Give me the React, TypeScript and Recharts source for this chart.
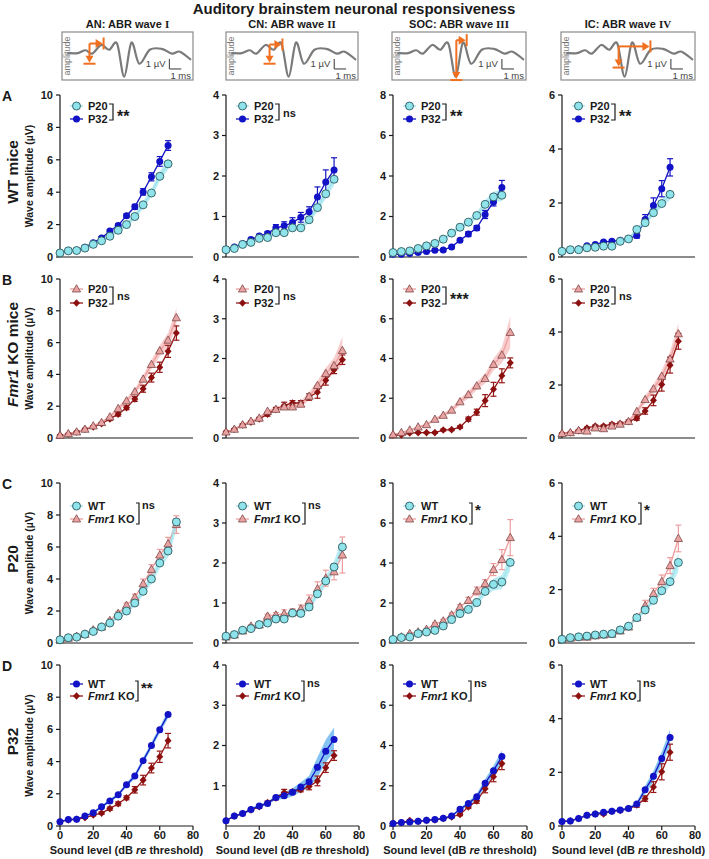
import React from "react"
import { Area, ComposedChart, ErrorBar, Line, XAxis, YAxis } from "recharts"

const FONT = '"Liberation Sans", Arial, Helvetica, sans-serif'
const INK = "#1a1a1a"

// sound levels, dB re threshold
const levels65 = [0, 5, 10, 15, 20, 25, 30, 35, 40, 45, 50, 55, 60, 65]
const levels70 = [0, 5, 10, 15, 20, 25, 30, 35, 40, 45, 50, 55, 60, 65, 70]

const waveTitles = ["AN: ABR wave ", "CN: ABR wave ", "SOC: ABR wave ", "IC: ABR wave "]
const waveNumerals = ["I", "II", "III", "IV"]

// row A: WT mice, P20 vs P32 (one list per wave I..IV)
const wtP20 = [
  [0.25, 0.38, 0.4, 0.55, 0.78, 1.0, 1.28, 1.65, 2.0, 2.5, 3.22, 3.95, 4.98, 5.75],
  [0.18, 0.21, 0.31, 0.36, 0.46, 0.48, 0.6, 0.6, 0.72, 0.72, 0.92, 1.22, 1.56, 1.92],
  [0.22, 0.27, 0.3, 0.42, 0.55, 0.67, 0.88, 1.18, 1.47, 1.72, 2.05, 2.6, 2.97, 3.05],
  [0.21, 0.27, 0.27, 0.34, 0.36, 0.4, 0.4, 0.58, 0.67, 1.02, 1.27, 1.64, 1.98, 2.32],
]
const wtP20Sem = [
  [0.03, 0.03, 0.04, 0.05, 0.06, 0.08, 0.1, 0.12, 0.15, 0.18, 0.22, 0.25, 0.3, 0.35],
  [0.02, 0.02, 0.03, 0.03, 0.04, 0.04, 0.05, 0.05, 0.06, 0.06, 0.08, 0.1, 0.12, 0.15],
  [0.03, 0.03, 0.04, 0.05, 0.06, 0.07, 0.08, 0.1, 0.12, 0.14, 0.17, 0.2, 0.25, 0.3],
  [0.02, 0.02, 0.03, 0.03, 0.03, 0.04, 0.04, 0.05, 0.05, 0.08, 0.1, 0.12, 0.15, 0.2],
]
const wtP32 = [
  [0.25, 0.38, 0.42, 0.6, 0.88, 1.18, 1.6, 1.95, 2.55, 3.1, 4.02, 4.95, 5.9, 6.88],
  [0.18, 0.25, 0.33, 0.43, 0.52, 0.58, 0.72, 0.77, 0.85, 0.98, 1.12, 1.48, 1.85, 2.15],
  [0.13, 0.13, 0.17, 0.22, 0.27, 0.33, 0.35, 0.5, 0.83, 1.13, 1.43, 2.1, 2.72, 3.43],
  [0.19, 0.24, 0.3, 0.42, 0.46, 0.56, 0.58, 0.62, 0.67, 0.8, 1.39, 1.91, 2.53, 3.32],
]
const wtP32Sem = [
  [0.03, 0.03, 0.04, 0.05, 0.06, 0.08, 0.1, 0.1, 0.12, 0.15, 0.2, 0.25, 0.3, 0.3],
  [0.02, 0.03, 0.03, 0.04, 0.04, 0.05, 0.08, 0.1, 0.12, 0.12, 0.12, 0.25, 0.3, 0.3],
  [0.02, 0.02, 0.03, 0.03, 0.04, 0.05, 0.05, 0.06, 0.08, 0.12, 0.12, 0.2, 0.2, 0.35],
  [0.02, 0.02, 0.03, 0.03, 0.04, 0.04, 0.05, 0.05, 0.06, 0.1, 0.18, 0.28, 0.3, 0.32],
]

// row B: Fmr1 KO mice, P20 vs P32
const koP20 = [
  [0.17, 0.27, 0.38, 0.55, 0.76, 0.97, 1.32, 1.85, 2.33, 2.9, 3.7, 4.62, 5.48, 6.15, 7.56],
  [0.15, 0.22, 0.33, 0.42, 0.5, 0.67, 0.72, 0.78, 0.78, 0.85, 1.05, 1.32, 1.62, 1.82, 2.2],
  [0.17, 0.27, 0.4, 0.55, 0.67, 0.94, 1.14, 1.4, 1.82, 2.18, 2.62, 2.99, 3.7, 4.17, 5.31],
  [0.17, 0.2, 0.28, 0.26, 0.38, 0.35, 0.45, 0.52, 0.62, 1.0, 1.45, 1.85, 2.33, 2.98, 3.93],
]
const koP20Sem = [
  [0.03, 0.04, 0.05, 0.06, 0.08, 0.1, 0.12, 0.15, 0.18, 0.2, 0.25, 0.3, 0.35, 0.45, 0.6],
  [0.02, 0.02, 0.03, 0.03, 0.04, 0.05, 0.05, 0.06, 0.07, 0.08, 0.1, 0.12, 0.15, 0.2, 0.35],
  [0.03, 0.03, 0.04, 0.05, 0.06, 0.08, 0.1, 0.12, 0.15, 0.18, 0.2, 0.25, 0.3, 0.4, 0.8],
  [0.02, 0.02, 0.03, 0.03, 0.04, 0.04, 0.05, 0.05, 0.06, 0.1, 0.15, 0.18, 0.22, 0.28, 0.4],
]
const koP32 = [
  [0.17, 0.25, 0.38, 0.55, 0.7, 0.9, 1.2, 1.5, 1.9, 2.45, 3.1, 3.8, 4.45, 5.45, 6.6],
  [0.15, 0.22, 0.33, 0.4, 0.48, 0.6, 0.72, 0.82, 0.88, 0.88, 1.03, 1.15, 1.45, 1.72, 1.97],
  [0.15, 0.15, 0.25, 0.27, 0.27, 0.27, 0.4, 0.42, 0.55, 0.95, 1.3, 1.88, 2.45, 3.13, 3.78],
  [0.17, 0.2, 0.28, 0.38, 0.45, 0.45, 0.52, 0.55, 0.62, 0.75, 1.02, 1.42, 2.02, 2.75, 3.65],
]
const koP32Sem = [
  [0.03, 0.04, 0.05, 0.06, 0.07, 0.08, 0.1, 0.12, 0.12, 0.15, 0.22, 0.28, 0.32, 0.38, 0.45],
  [0.02, 0.02, 0.03, 0.03, 0.04, 0.05, 0.05, 0.08, 0.06, 0.06, 0.08, 0.15, 0.12, 0.1, 0.12],
  [0.02, 0.02, 0.03, 0.03, 0.03, 0.04, 0.05, 0.05, 0.06, 0.1, 0.15, 0.3, 0.35, 0.35, 0.25],
  [0.02, 0.02, 0.03, 0.03, 0.04, 0.04, 0.05, 0.05, 0.06, 0.08, 0.12, 0.2, 0.25, 0.3, 0.3],
]

// row C: P20, WT vs Fmr1 KO
const p20Wt = [
  [0.2, 0.33, 0.37, 0.55, 0.72, 1.0, 1.25, 1.68, 2.0, 2.5, 3.23, 4.0, 5.0, 5.75, 7.57],
  [0.17, 0.21, 0.32, 0.36, 0.46, 0.5, 0.6, 0.6, 0.75, 0.74, 0.9, 1.23, 1.55, 1.9, 2.4],
  [0.18, 0.27, 0.3, 0.47, 0.55, 0.63, 0.85, 1.17, 1.47, 1.68, 2.02, 2.58, 2.93, 3.05, 4.03],
  [0.14, 0.2, 0.23, 0.26, 0.3, 0.33, 0.35, 0.49, 0.63, 0.95, 1.24, 1.6, 1.96, 2.3, 3.02],
]
const p20WtSem = [
  [0.03, 0.04, 0.05, 0.06, 0.08, 0.1, 0.12, 0.15, 0.18, 0.2, 0.25, 0.3, 0.35, 0.4, 0.5],
  [0.02, 0.02, 0.03, 0.03, 0.04, 0.04, 0.05, 0.05, 0.06, 0.06, 0.08, 0.1, 0.12, 0.15, 0.25],
  [0.03, 0.03, 0.04, 0.05, 0.06, 0.07, 0.08, 0.1, 0.12, 0.14, 0.17, 0.2, 0.3, 0.35, 0.4],
  [0.02, 0.02, 0.03, 0.03, 0.03, 0.04, 0.04, 0.05, 0.06, 0.08, 0.1, 0.12, 0.15, 0.2, 0.35],
]
const p20Ko = [
  [0.2, 0.3, 0.42, 0.55, 0.82, 1.0, 1.4, 1.85, 2.35, 2.85, 3.7, 4.6, 5.5, 6.2, 7.4],
  [0.15, 0.2, 0.3, 0.42, 0.45, 0.67, 0.7, 0.73, 0.76, 0.85, 1.05, 1.35, 1.62, 1.78, 2.2],
  [0.18, 0.3, 0.47, 0.55, 0.68, 0.95, 1.1, 1.4, 1.8, 2.13, 2.6, 2.97, 3.67, 4.17, 5.27],
  [0.14, 0.18, 0.22, 0.22, 0.27, 0.3, 0.33, 0.45, 0.6, 0.95, 1.4, 1.85, 2.3, 2.9, 3.92],
]
const p20KoSem = [
  [0.03, 0.04, 0.05, 0.06, 0.08, 0.1, 0.1, 0.12, 0.15, 0.2, 0.3, 0.3, 0.35, 0.4, 0.55],
  [0.02, 0.02, 0.03, 0.04, 0.04, 0.05, 0.06, 0.1, 0.1, 0.1, 0.15, 0.18, 0.2, 0.2, 0.45],
  [0.02, 0.03, 0.04, 0.05, 0.06, 0.07, 0.08, 0.1, 0.12, 0.15, 0.2, 0.2, 0.3, 0.5, 0.9],
  [0.02, 0.02, 0.03, 0.03, 0.04, 0.04, 0.05, 0.05, 0.06, 0.1, 0.2, 0.2, 0.25, 0.3, 0.5],
]

// row D: P32, WT vs Fmr1 KO
const p32Wt = [
  [0.27, 0.4, 0.42, 0.62, 0.83, 1.19, 1.56, 1.94, 2.56, 3.1, 4.06, 5.0, 5.98, 6.92],
  [0.13, 0.25, 0.31, 0.41, 0.5, 0.56, 0.71, 0.75, 0.84, 0.97, 1.1, 1.46, 1.86, 2.15],
  [0.13, 0.17, 0.2, 0.23, 0.28, 0.32, 0.38, 0.5, 0.83, 1.12, 1.45, 2.13, 2.75, 3.45],
  [0.17, 0.19, 0.28, 0.4, 0.45, 0.51, 0.55, 0.6, 0.65, 0.82, 1.35, 1.85, 2.52, 3.3],
]
const p32WtSem = [
  [0.03, 0.03, 0.04, 0.05, 0.06, 0.08, 0.1, 0.1, 0.12, 0.15, 0.18, 0.2, 0.2, 0.22],
  [0.02, 0.02, 0.03, 0.03, 0.04, 0.04, 0.06, 0.08, 0.1, 0.12, 0.15, 0.25, 0.28, 0.3],
  [0.02, 0.02, 0.03, 0.03, 0.03, 0.04, 0.04, 0.05, 0.08, 0.1, 0.15, 0.2, 0.25, 0.3],
  [0.02, 0.02, 0.03, 0.03, 0.03, 0.04, 0.04, 0.05, 0.05, 0.08, 0.15, 0.2, 0.25, 0.3],
]
const p32Ko = [
  [0.27, 0.38, 0.42, 0.52, 0.68, 0.8, 1.08, 1.38, 1.75, 2.25, 2.85, 3.6, 4.3, 5.3],
  [0.13, 0.25, 0.31, 0.4, 0.48, 0.58, 0.7, 0.83, 0.85, 0.9, 0.98, 1.12, 1.45, 1.75],
  [0.13, 0.17, 0.27, 0.23, 0.28, 0.3, 0.38, 0.45, 0.57, 0.95, 1.25, 1.85, 2.45, 3.1],
  [0.17, 0.19, 0.28, 0.4, 0.45, 0.45, 0.55, 0.58, 0.65, 0.78, 1.02, 1.45, 2.02, 2.75],
]
const p32KoSem = [
  [0.03, 0.03, 0.04, 0.05, 0.06, 0.08, 0.1, 0.12, 0.12, 0.2, 0.3, 0.3, 0.35, 0.45],
  [0.02, 0.02, 0.03, 0.03, 0.04, 0.04, 0.05, 0.08, 0.05, 0.05, 0.08, 0.12, 0.12, 0.12],
  [0.02, 0.02, 0.05, 0.03, 0.03, 0.04, 0.04, 0.05, 0.06, 0.08, 0.12, 0.2, 0.25, 0.3],
  [0.02, 0.02, 0.03, 0.03, 0.04, 0.04, 0.05, 0.05, 0.06, 0.08, 0.1, 0.2, 0.3, 0.3],
]

const yMaxes = [10, 4, 8, 6]
const yTickSets = [
  [0, 2, 4, 6, 8, 10],
  [0, 1, 2, 3, 4],
  [0, 2, 4, 6, 8],
  [0, 2, 4, 6],
]
const xTicks = [0, 20, 40, 60, 80]

// plot rectangles in page pixels
const cols = [
  { left: 60, width: 133 },
  { left: 226, width: 133 },
  { left: 393, width: 134 },
  { left: 562, width: 133 },
]

type Kind = "cyan" | "blue" | "pink" | "red"

const kindStyle: Record<Kind, { line: string; err: string }> = {
  cyan: { line: "#9fe2ea", err: "#7fd3de" },
  blue: { line: "#1414c4", err: "#1414c4" },
  pink: { line: "#ee9d9d", err: "#ee9d9d" },
  red: { line: "#961616", err: "#961616" },
}

const rows = [
  {
    letter: "A", label: "WT mice", top: 95, height: 162, levels: levels65,
    banded: { kind: "cyan" as Kind, name: "P20", vals: wtP20, sem: wtP20Sem, band: "#aeeaf2" },
    errored: { kind: "blue" as Kind, name: "P32", vals: wtP32, sem: wtP32Sem },
    sig: ["**", "ns", "**", "**"], legendY: [11, 24], bracketX: 53, genotype: false,
  },
  {
    letter: "B", label: "KO", top: 279, height: 159, levels: levels70,
    banded: { kind: "pink" as Kind, name: "P20", vals: koP20, sem: koP20Sem, band: "#f7c4c4" },
    errored: { kind: "red" as Kind, name: "P32", vals: koP32, sem: koP32Sem },
    sig: ["ns", "ns", "***", "ns"], legendY: [10, 24], bracketX: 53, genotype: false,
  },
  {
    letter: "C", label: "P20", top: 483, height: 160, levels: levels70,
    banded: { kind: "cyan" as Kind, name: "WT", vals: p20Wt, sem: p20WtSem, band: "#aeeaf2" },
    errored: { kind: "pink" as Kind, name: "KO", vals: p20Ko, sem: p20KoSem },
    sig: ["ns", "ns", "*", "*"], legendY: [23, 36], bracketX: 79, genotype: true,
  },
  {
    letter: "D", label: "P32", top: 665, height: 161, levels: levels65,
    banded: { kind: "blue" as Kind, name: "WT", vals: p32Wt, sem: p32WtSem, band: "#6fb8f0" },
    errored: { kind: "red" as Kind, name: "KO", vals: p32Ko, sem: p32KoSem },
    sig: ["**", "ns", "ns", "ns"], legendY: [19, 31], bracketX: 78, genotype: true,
  },
]

function Marker({ cx, cy, kind }: { cx?: number; cy?: number; kind: Kind }) {
  if (cx == null || cy == null) return null
  if (kind === "cyan") return <circle cx={cx} cy={cy} r={4} fill="#8fe3ea" stroke="#2c5a60" strokeWidth={0.9} />
  if (kind === "blue") return <circle cx={cx} cy={cy} r={3.5} fill="#1212c6" />
  if (kind === "pink")
    return (
      <path
        d={`M${cx},${cy - 4.3} L${cx + 4.1},${cy + 3} L${cx - 4.1},${cy + 3} Z`}
        fill="#e9a3a3"
        stroke="#7d4646"
        strokeWidth={0.8}
      />
    )
  return <path d={`M${cx},${cy - 3.8} L${cx + 3.5},${cy} L${cx},${cy + 3.8} L${cx - 3.5},${cy} Z`} fill="#8c1010" />
}

const tickStyle = { fontSize: 11, fontWeight: 700, fill: INK, fontFamily: FONT }
const axisStroke = { stroke: INK, strokeWidth: 1.2 }

function Panel({ row, col }: { row: number; col: number }) {
  const r = rows[row]
  const c = cols[col]
  const last = row === 3
  const xAxisH = last ? 20 : 6
  const data = r.levels.map((x, i) => {
    const a = r.banded.vals[col][i]
    const s = r.banded.sem[col][i]
    return { x, a, band: [a - s, a + s], b: r.errored.vals[col][i], bErr: r.errored.sem[col][i] }
  })
  const yTicks = last && col === 1 ? [1, 2, 3, 4] : yTickSets[col]
  const bk = r.banded.kind
  const ek = r.errored.kind
  return (
    <div style={{ position: "absolute", left: c.left - 30, top: r.top - 8 }}>
      <ComposedChart
        width={30 + c.width + 10}
        height={8 + r.height + xAxisH}
        data={data}
        margin={{ top: 8, right: 10, bottom: 0, left: 0 }}
      >
        <XAxis
          type="number"
          dataKey="x"
          domain={[0, 80]}
          ticks={xTicks}
          interval={0}
          height={xAxisH}
          tick={last ? tickStyle : false}
          tickSize={4}
          tickMargin={1}
          axisLine={axisStroke}
          tickLine={axisStroke}
        />
        <YAxis
          type="number"
          domain={[0, yMaxes[col]]}
          ticks={yTicks}
          interval={0}
          width={30}
          tick={tickStyle}
          tickSize={4}
          tickMargin={3}
          axisLine={axisStroke}
          tickLine={axisStroke}
        />
        <Area
          type="linear"
          dataKey="band"
          stroke="none"
          fill={r.banded.band}
          fillOpacity={0.85}
          isAnimationActive={false}
        />
        <Line
          type="linear"
          dataKey="b"
          stroke={kindStyle[ek].line}
          strokeWidth={1.3}
          dot={(p: any) => <Marker key={`e${p.index}`} cx={p.cx} cy={p.cy} kind={ek} />}
          activeDot={false}
          isAnimationActive={false}
        >
          <ErrorBar dataKey="bErr" direction="y" width={3} stroke={kindStyle[ek].err} strokeWidth={1.2} />
        </Line>
        <Line
          type="linear"
          dataKey="a"
          stroke={kindStyle[bk].line}
          strokeWidth={1.3}
          dot={(p: any) => <Marker key={`b${p.index}`} cx={p.cx} cy={p.cy} kind={bk} />}
          activeDot={false}
          isAnimationActive={false}
        />
      </ComposedChart>
    </div>
  )
}

function LegendMarks({ row, col }: { row: number; col: number }) {
  const r = rows[row]
  const c = cols[col]
  const x0 = c.left
  const y0 = r.top
  const items = [r.banded, r.errored]
  const [ya, yb] = r.legendY
  const bx = x0 + r.bracketX
  const stars = r.sig[col] !== "ns"
  return (
    <g>
      {items.map((it, i) => {
        const y = y0 + r.legendY[i]
        return (
          <g key={i}>
            <line x1={x0 + 10} x2={x0 + 23} y1={y} y2={y} stroke={kindStyle[it.kind].line} strokeWidth={1.3} />
            <Marker cx={x0 + 16.5} cy={y} kind={it.kind} />
            <text x={x0 + 28} y={y + 4} fontSize={11} fontWeight={700} fill={INK}>
              {r.genotype && i === 1 ? (
                <>
                  <tspan fontStyle="italic">Fmr1</tspan> KO
                </>
              ) : (
                it.name
              )}
            </text>
          </g>
        )
      })}
      {r.genotype ? (
        <path
          d={`M${bx - 3},${y0 + ya - 3} H${bx} V${y0 + yb + 5} H${bx - 3}`}
          fill="none"
          stroke={INK}
          strokeWidth={1.2}
        />
      ) : (
        <path
          d={`M${bx - 4},${y0 + ya - 2} H${bx} V${y0 + yb + 1} H${bx - 4}`}
          fill="none"
          stroke={INK}
          strokeWidth={1.2}
        />
      )}
      {r.genotype ? (
        <text x={bx + 3} y={y0 + ya + (stars ? 9 : 3)} fontSize={stars ? 15 : 11} fontWeight={700} fill={INK}>
          {r.sig[col]}
        </text>
      ) : (
        <text
          x={bx + 4}
          y={y0 + (ya + yb) / 2 + (stars ? 9 : 4)}
          fontSize={stars ? 16 : 11}
          fontWeight={700}
          fill={INK}
        >
          {r.sig[col]}
        </text>
      )}
    </g>
  )
}

// decorative ABR trace used in the header schematics (box-relative units)
const tracePts = [
  [0.04, 0.44], [0.12, 0.44], [0.18, 0.38], [0.23, 0.45], [0.3, 0.27], [0.36, 0.37], [0.42, 0.24],
  [0.475, 0.93], [0.53, 0.22], [0.59, 0.66], [0.67, 0.37], [0.76, 0.35], [0.84, 0.45],
  [0.9, 0.41], [0.985, 0.58],
]
const headerBoxes = [
  { x: 62, w: 131, u0: 0.21, u1: 0.31, vTop: 0.24, vBot: 0.64 },
  { x: 226, w: 132, u0: 0.33, u1: 0.42, vTop: 0.26, vBot: 0.64 },
  { x: 392, w: 134, u0: 0.48, u1: 0.55, vTop: 0.17, vBot: 0.98 },
  { x: 561, w: 134, u0: 0.43, u1: 0.66, vTop: 0.3, vBot: 0.72 },
]

function smooth(pts: number[][]) {
  let d = `M${pts[0][0]},${pts[0][1]}`
  for (let i = 0; i < pts.length - 1; i++) {
    const p0 = pts[Math.max(i - 1, 0)]
    const p1 = pts[i]
    const p2 = pts[i + 1]
    const p3 = pts[Math.min(i + 2, pts.length - 1)]
    const c1 = [p1[0] + (p2[0] - p0[0]) / 6, p1[1] + (p2[1] - p0[1]) / 6]
    const c2 = [p2[0] - (p3[0] - p1[0]) / 6, p2[1] - (p3[1] - p1[1]) / 6]
    d += ` C${c1[0]},${c1[1]} ${c2[0]},${c2[1]} ${p2[0]},${p2[1]}`
  }
  return d
}

function HeaderBox({ i }: { i: number }) {
  const b = headerBoxes[i]
  const top = 32
  const h = 48
  const X = (u: number) => b.x + u * b.w
  const Y = (v: number) => top + v * h
  const orange = "#f07020"
  const ax = X(b.u0)
  const px = X(b.u1)
  const yt = Y(b.vTop)
  const yb = Y(b.vBot)
  return (
    <g>
      <rect x={b.x} y={top} width={b.w} height={h} fill="#fff" stroke="#8a8a8a" strokeWidth={1.2} />
      <text
        transform={`translate(${b.x + 8},${top + h / 2}) rotate(-90)`}
        textAnchor="middle"
        fontSize={9}
        fill="#777"
      >
        amplitude
      </text>
      <path d={smooth(tracePts.map(([u, v]) => [X(u), Y(v)]))} fill="none" stroke="#7a7a7a" strokeWidth={2.2} />
      <line x1={ax} x2={ax} y1={yt} y2={yb - 3} stroke={orange} strokeWidth={2} />
      <path d={`M${ax - 4},${yb - 7} L${ax + 4},${yb - 7} L${ax},${yb} Z`} fill={orange} />
      <line x1={ax - 6} x2={ax + 6} y1={yb + 1} y2={yb + 1} stroke={orange} strokeWidth={2} />
      <line x1={ax} x2={px - 4} y1={yt} y2={yt} stroke={orange} strokeWidth={2} />
      <path d={`M${px - 7},${yt - 4.5} L${px - 7},${yt + 4.5} L${px},${yt} Z`} fill={orange} />
      <line x1={px + 1} x2={px + 1} y1={yt - 6} y2={yt + 6} stroke={orange} strokeWidth={2} />
      <line x1={X(0.82)} x2={X(0.82)} y1={Y(0.56)} y2={Y(0.77)} stroke="#555" strokeWidth={1.2} />
      <line x1={X(0.82)} x2={X(0.91)} y1={Y(0.77)} y2={Y(0.77)} stroke="#555" strokeWidth={1.2} />
      <text x={X(0.79)} y={Y(0.73)} textAnchor="end" fontSize={9.5} fill="#444">
        1 µV
      </text>
      <text x={X(0.985)} y={Y(0.97)} textAnchor="end" fontSize={9.5} fill="#444">
        1 ms
      </text>
    </g>
  )
}

export default function App() {
  const colCenters = cols.map((c) => c.left + c.width / 2)
  return (
    <div
      style={{
        position: "absolute",
        left: 0,
        top: 0,
        width: 709,
        height: 859,
        background: "#fff",
        fontFamily: FONT,
        overflow: "hidden",
      }}
    >
      {rows.map((_, ri) => cols.map((__, ci) => <Panel key={`${ri}-${ci}`} row={ri} col={ci} />))}
      <svg
        width={709}
        height={859}
        style={{ position: "absolute", left: 0, top: 0, pointerEvents: "none" }}
        fontFamily={FONT}
      >
        <text x={354} y={14} textAnchor="middle" fontSize={15} fontWeight={700} fill={INK}>
          Auditory brainstem neuronal responsiveness
        </text>
        {headerBoxes.map((b, i) => (
          <text key={i} x={b.x + b.w / 2} y={28} textAnchor="middle" fontSize={11} fontWeight={700} fill={INK}>
            {waveTitles[i]}
            <tspan fontFamily='"Liberation Serif", serif'>{waveNumerals[i]}</tspan>
          </text>
        ))}
        {headerBoxes.map((_, i) => (
          <HeaderBox key={i} i={i} />
        ))}
        {rows.map((r, ri) => {
          const cy = r.top + r.height / 2
          return (
            <g key={ri}>
              <text x={2} y={r.top + 6} fontSize={14} fontWeight={700} fill={INK}>
                {r.letter}
              </text>
              <text
                transform={`translate(18,${cy - 4}) rotate(-90)`}
                textAnchor="middle"
                fontSize={15.5}
                fontWeight={700}
                fill={INK}
              >
                {r.label === "KO" ? (
                  <>
                    <tspan fontStyle="italic">Fmr1</tspan> KO mice
                  </>
                ) : (
                  r.label
                )}
              </text>
              <text
                transform={`translate(33,${cy}) rotate(-90)`}
                textAnchor="middle"
                fontSize={10.5}
                fontWeight={700}
                fill={INK}
              >
                Wave amplitude (µV)
              </text>
            </g>
          )
        })}
        {rows.map((_, ri) => cols.map((__, ci) => <LegendMarks key={`l${ri}-${ci}`} row={ri} col={ci} />))}
        {colCenters.map((cx, i) => (
          <text key={i} x={cx} y={854} textAnchor="middle" fontSize={11} fontWeight={700} fill={INK}>
            Sound level (dB <tspan fontStyle="italic">re</tspan> threshold)
          </text>
        ))}
      </svg>
    </div>
  )
}
